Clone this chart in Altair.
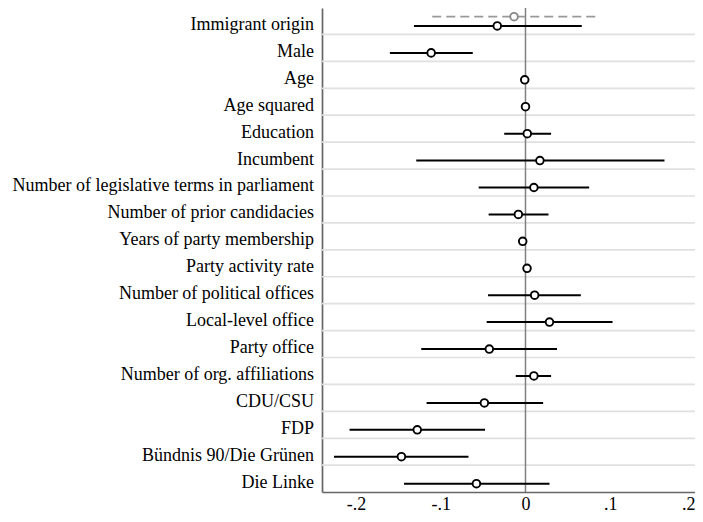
import altair as alt
import pandas as pd

labels = [
    "Immigrant origin", "Male", "Age", "Age squared", "Education", "Incumbent",
    "Number of legislative terms in parliament", "Number of prior candidacies",
    "Years of party membership", "Party activity rate", "Number of political offices",
    "Local-level office", "Party office", "Number of org. affiliations",
    "CDU/CSU", "FDP", "Bündnis 90/Die Grünen", "Die Linke",
]
est = [-0.0333, -0.1113, -0.0009, 0.0, 0.0021, 0.0170, 0.0099, -0.0084, -0.0033, 0.0018,
       0.0108, 0.0283, -0.0427, 0.0099, -0.0485, -0.1277, -0.1464, -0.0579]
lo = [-0.1316, -0.1600, -0.0020, -0.0010, -0.0251, -0.1289, -0.0552, -0.0435, -0.0045, 0.0005,
      -0.0442, -0.0458, -0.1230, -0.0115, -0.1167, -0.2076, -0.2260, -0.1433]
hi = [0.0664, -0.0622, 0.0002, 0.0010, 0.0302, 0.1640, 0.0751, 0.0271, -0.0021, 0.0031,
      0.0653, 0.1027, 0.0372, 0.0302, 0.0208, -0.0477, -0.0673, 0.0283]

# second model (only immigrant origin), dashed grey
est2 = [-0.0135]
lo2 = [-0.1100]
hi2 = [0.0828]

tick_values = [-0.2, -0.1, 0, 0.1, 0.2]
tick_labels = ["-.2", "-.1", "0", ".1", ".2"]

rows = list(range(len(labels)))
df = pd.DataFrame({"label": labels, "row": rows, "est": est, "lo": lo, "hi": hi})
df2 = pd.DataFrame({"row": [-0.345], "est": est2, "lo": lo2, "hi": hi2})
grid = pd.DataFrame({"g": [r + 0.315 for r in rows[:-1]]})
zero = pd.DataFrame({"z": [0.0]})

# build label expression from the tick lists
expr = "''"
for v, t in zip(reversed(tick_values), reversed(tick_labels)):
    expr = f"abs(datum.value - ({v})) < 1e-6 ? '{t}' : ({expr})"

W, H = 373, 484
FONT = "Liberation Serif"

xscale = alt.Scale(domain=[-0.2401, 0.2], nice=False, zero=False)
yscale = alt.Scale(domain=[-0.667, 17.31], reverse=True, nice=False, zero=False)

xaxis = alt.Axis(values=tick_values, labelExpr=expr,
                 grid=False, ticks=False, domainColor="#666666", domainWidth=1.7,
                 labelFont=FONT, labelFontSize=18, labelColor="#000000", labelPadding=3,
                 labelAlign=alt.ExprRef(expr="datum.value > 0.15 ? 'right' : 'center'"),
                 labelFlush=False, labelOverlap=False, labelBound=False, title=None)
yaxis = alt.Axis(labels=False, ticks=False, grid=False, domainColor="#666666", domainWidth=1.7, title=None)

gridlines = alt.Chart(grid).mark_rule(color="#e0e0e0", strokeWidth=1.7).encode(
    y=alt.Y("g:Q", scale=yscale, axis=yaxis),
    x=alt.value(0), x2=alt.value(W),
)

zline = alt.Chart(zero).mark_rule(color="#808080", strokeWidth=1.5).encode(
    x=alt.X("z:Q", scale=xscale, axis=xaxis),
    y=alt.value(0), y2=alt.value(H),
)

bars = alt.Chart(df).mark_rule(color="#000000", strokeWidth=2).encode(
    x=alt.X("lo:Q", scale=xscale, axis=xaxis), x2="hi:Q",
    y=alt.Y("row:Q", scale=yscale, axis=yaxis),
)

pts = alt.Chart(df).mark_point(shape="circle", filled=True, fill="white", stroke="#000000",
                               strokeWidth=1.9, size=58, opacity=1).encode(
    x=alt.X("est:Q", scale=xscale, axis=xaxis),
    y=alt.Y("row:Q", scale=yscale, axis=yaxis),
)

bars2 = alt.Chart(df2).mark_rule(color="#999999", strokeWidth=1.8, strokeDash=[9, 5]).encode(
    x=alt.X("lo:Q", scale=xscale, axis=xaxis), x2="hi:Q",
    y=alt.Y("row:Q", scale=yscale, axis=yaxis),
)

pts2 = alt.Chart(df2).mark_point(shape="circle", filled=True, fill="white", stroke="#888888",
                                 strokeWidth=1.9, size=58, opacity=1).encode(
    x=alt.X("est:Q", scale=xscale, axis=xaxis),
    y=alt.Y("row:Q", scale=yscale, axis=yaxis),
)

text = alt.Chart(df).mark_text(align="right", baseline="alphabetic", dy=4, font=FONT,
                               fontSize=18, color="#000000").encode(
    x=alt.value(-8),
    y=alt.Y("row:Q", scale=yscale, axis=yaxis),
    text="label:N",
)

chart = alt.layer(gridlines, zline, bars2, pts2, bars, pts, text).properties(
    width=W, height=H,
    autosize=alt.AutoSizeParams(type="none"),
    padding={"left": 314, "top": 0, "right": 0, "bottom": 22},
    background="white",
).configure_view(stroke=None)

chart.save("out.html", embed_options={"renderer": "svg", "actions": False})
